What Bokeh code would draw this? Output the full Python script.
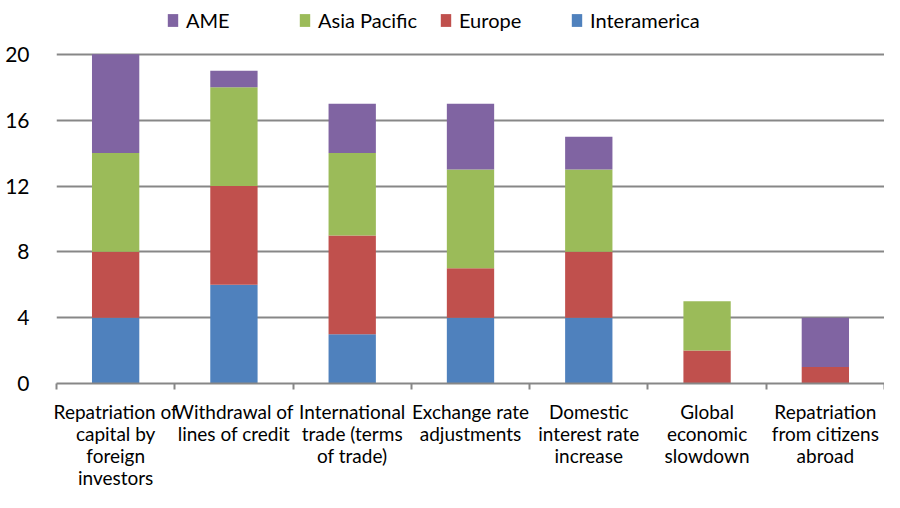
from bokeh.plotting import figure
from bokeh.models import (ColumnDataSource, Range1d, FixedTicker, Legend, LegendItem)
from bokeh.embed import file_html
from bokeh.resources import INLINE

categories = [
    "Repatriation of\ncapital by\nforeign\ninvestors",
    "Withdrawal of\nlines of credit",
    "International\ntrade (terms\nof trade)",
    "Exchange rate\nadjustments",
    "Domestic\ninterest rate\nincrease",
    "Global\neconomic\nslowdown",
    "Repatriation\nfrom citizens\nabroad",
]
interamerica = [4, 6, 3, 4, 4, 0, 0]
europe = [4, 6, 6, 3, 4, 2, 1]
asia_pacific = [6, 6, 5, 6, 5, 3, 0]
ame = [6, 1, 3, 4, 2, 0, 3]
series = ["Interamerica", "Europe", "Asia Pacific", "AME"]
colors = ["#4F81BD", "#C0504D", "#9BBB59", "#8064A2"]
y_ticks = [0, 4, 8, 12, 16, 20]
y_max = 20

FONT = "Lato"
n = len(categories)
centers = [i + 0.5 for i in range(n)]
bounds = list(range(n + 1))

# layout (pixels)
W, H = 884, 492
TOP, LEFT, BOTTOM = 0, 56, 108
frame_h = H - TOP - BOTTOM
px_per_unit = (frame_h - (54 - TOP)) / y_max
y_end = y_max + (54 - TOP) / px_per_unit  # headroom above 20 for the legend

source = ColumnDataSource(dict(
    x=centers,
    Interamerica=interamerica,
    Europe=europe,
    **{"Asia Pacific": asia_pacific},
    AME=ame,
))

p = figure(width=W, height=H, x_range=Range1d(0, n), y_range=Range1d(0, y_end),
           output_backend="svg", toolbar_location=None,
           min_border_left=LEFT, min_border_right=0, min_border_top=TOP, min_border_bottom=BOTTOM)
p.outline_line_color = None
p.background_fill_color = "white"
p.border_fill_color = "white"

renderers = p.vbar_stack(series, x="x", width=0.4, color=colors, source=source, line_color=None)

# grid
p.xgrid.visible = False
p.ygrid.ticker = FixedTicker(ticks=y_ticks)
p.ygrid.grid_line_color = "#878787"
p.ygrid.grid_line_width = 2

# y axis
p.yaxis.ticker = FixedTicker(ticks=y_ticks)
p.yaxis.axis_line_color = None
p.yaxis.major_tick_line_color = None
p.yaxis.minor_tick_line_color = None
p.yaxis.major_label_text_font = FONT
p.yaxis.major_label_text_font_size = "21px"
p.yaxis.major_label_text_color = "#000000"
p.yaxis.major_label_standoff = 21

# x axis
p.xaxis.ticker = FixedTicker(ticks=centers, minor_ticks=bounds)
p.xaxis.major_label_overrides = {c: lab for c, lab in zip(centers, categories)}
p.xaxis.axis_line_color = "#878787"
p.xaxis.axis_line_width = 2
p.xaxis.major_tick_line_color = None
p.xaxis.major_tick_out = 0
p.xaxis.major_tick_in = 0
p.xaxis.minor_tick_line_color = "#878787"
p.xaxis.minor_tick_line_width = 2
p.xaxis.minor_tick_out = 6
p.xaxis.minor_tick_in = 0
p.xaxis.major_label_text_font = FONT
p.xaxis.major_label_text_font_size = "19px"
p.xaxis.major_label_text_color = "#000000"
p.xaxis.major_label_text_line_height = 0.97
p.xaxis.major_label_standoff = 10

# legends (one per item, reversed order as in reference)
legend_x = {"AME": 110, "Asia Pacific": 242, "Europe": 383, "Interamerica": 514}
for name, r in zip(series, renderers):
    lg = Legend(items=[LegendItem(label=name, renderers=[r])],
                location=(legend_x[name], frame_h - 33), orientation="horizontal",
                glyph_width=13, glyph_height=16, label_height=16, label_standoff=7,
                padding=0, margin=0, spacing=0, border_line_color=None,
                background_fill_alpha=0, label_text_font=FONT,
                label_text_font_size="20px", label_text_color="#000000")
    p.add_layout(lg, "center")

open("out.html", "w").write(file_html(p, INLINE))
